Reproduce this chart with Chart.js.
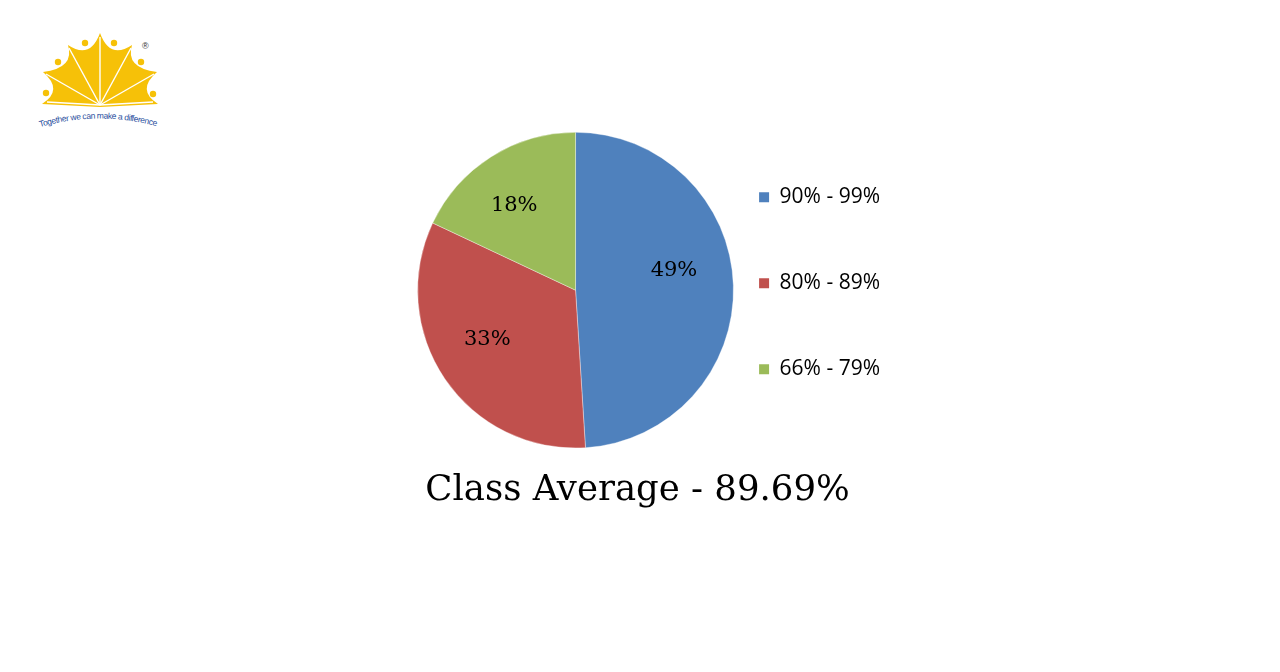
<!DOCTYPE html>
<html>
<head>
<meta charset="utf-8">
<title>Class Average</title>
<script src="https://cdn.jsdelivr.net/npm/chart.js@4"></script>
<style>
  html, body { margin: 0; padding: 0; background: #fff; }
  body { width: 1280px; height: 672px; position: relative; overflow: hidden; }
  #logo { position: absolute; left: 30px; top: 25px; width: 140px; height: 110px; }
  #wrap { position: absolute; left: 390px; top: 120px; width: 500px; height: 420px; }
</style>
</head>
<body>
<svg id="logo" viewBox="30 25 140 110" xmlns="http://www.w3.org/2000/svg">
  <path fill="#F6C108" d="M42 104 Q64 90 43 72 Q75 68 68 45 Q90 60 100 33 Q110 60 132 45 Q125 68 157 72 Q136 90 158 104 L100 107 Z"/>
  <g stroke="#fff" stroke-width="1.4" fill="none">
    <line x1="100" y1="105" x2="46" y2="74"/>
    <line x1="100" y1="105" x2="69" y2="48"/>
    <line x1="100" y1="105" x2="100" y2="37"/>
    <line x1="100" y1="105" x2="131" y2="48"/>
    <line x1="100" y1="105" x2="154" y2="74"/>
    <line x1="100" y1="105" x2="47" y2="102"/>
    <line x1="100" y1="105" x2="153" y2="102"/>
  </g>
  <g fill="#F6C108">
    <circle cx="85" cy="43" r="3.2"/><circle cx="114" cy="43" r="3.2"/>
    <circle cx="58" cy="62" r="3.2"/><circle cx="141" cy="62" r="3.2"/>
    <circle cx="46" cy="93" r="3.2"/><circle cx="153" cy="94" r="3.2"/>
  </g>
  <text x="142" y="49" font-family="Liberation Sans, Arial" font-size="9" fill="#333">®</text>
  <path id="arc" d="M40 127 Q100 110 159 127" fill="none"/>
  <text font-family="Liberation Sans, Arial" font-size="8.5" fill="#2A4F9E">
    <textPath href="#arc" textLength="118">Together we can make a difference</textPath>
  </text>
</svg>
<div id="wrap"><canvas id="pieChart"></canvas></div>
<script>
  // chart data
  const categories = ['90% - 99%', '80% - 89%', '66% - 79%'];
  const shares = [49, 33, 18];
  const sliceColors = ['#4F81BD', '#C0504D', '#9BBB59'];
  const chartTitle = 'Class Average - 89.69%';
  // small nudges so the labels sit where the original put them
  const labelNudge = [[-1, -17], [-6, -7], [-8, -1]];

  // percent labels inside each slice
  const sliceLabels = {
    id: 'sliceLabels',
    afterDatasetsDraw: function(chart) {
      const ctx = chart.ctx;
      const meta = chart.getDatasetMeta(0);
      ctx.save();
      ctx.font = '21px "DejaVu Serif"';
      ctx.fillStyle = '#000';
      ctx.textAlign = 'center';
      ctx.textBaseline = 'middle';
      meta.data.forEach(function(arc, i) {
        const p = arc.getProps(['x', 'y', 'startAngle', 'endAngle', 'outerRadius'], true);
        const mid = (p.startAngle + p.endAngle) / 2;
        const r = p.outerRadius * 0.63;
        ctx.fillText(shares[i] + '%', p.x + Math.cos(mid) * r + labelNudge[i][0], p.y + Math.sin(mid) * r + labelNudge[i][1]);
      });
      ctx.restore();
    }
  };

  // the title in the original is centred a bit left of the pie+legend block
  const titleNudge = {
    id: 'titleNudge',
    afterLayout: function(chart) {
      if (chart.titleBlock) chart.titleBlock.right -= 17;
    }
  };

  const ctx = document.getElementById('pieChart').getContext('2d');
  const pieChart = new Chart(ctx, {
    type: 'pie',
    data: {
      labels: categories,
      datasets: [{
        data: shares,
        backgroundColor: sliceColors,
        borderColor: 'rgba(255,255,255,0.6)',
        borderWidth: 0.6
      }]
    },
    options: {
      responsive: true,
      maintainAspectRatio: false,
      animation: false,
      events: [],
      layout: { padding: { left: 12, top: 12, right: 0, bottom: 25 } },
      plugins: {
        tooltip: { enabled: false },
        title: {
          display: true,
          position: 'bottom',
          text: chartTitle,
          color: '#000',
          font: { family: 'DejaVu Serif', size: 35.5, weight: 'normal' },
          padding: { top: 21, bottom: 3 }
        },
        legend: {
          position: 'right',
          align: 'center',
          fullSize: false,
          // blank legend title only pushes the entries down
          title: { display: true, text: ' ', padding: 0, font: { size: 10, lineHeight: '41px' } },
          labels: {
            boxWidth: 10,
            boxHeight: 10,
            padding: 10,
            color: '#000',
            font: { family: 'Open Sans', size: 21, lineHeight: '76px' },
            generateLabels: function(chart) {
              // array text gives each entry a tall row, like the spaced-out legend
              const items = Chart.overrides.pie.plugins.legend.labels.generateLabels(chart);
              return items.map(function(item) {
                item.text = [item.text];
                item.lineWidth = 0;
                return item;
              });
            }
          }
        }
      }
    },
    plugins: [sliceLabels, titleNudge]
  });
</script>
</body>
</html>
